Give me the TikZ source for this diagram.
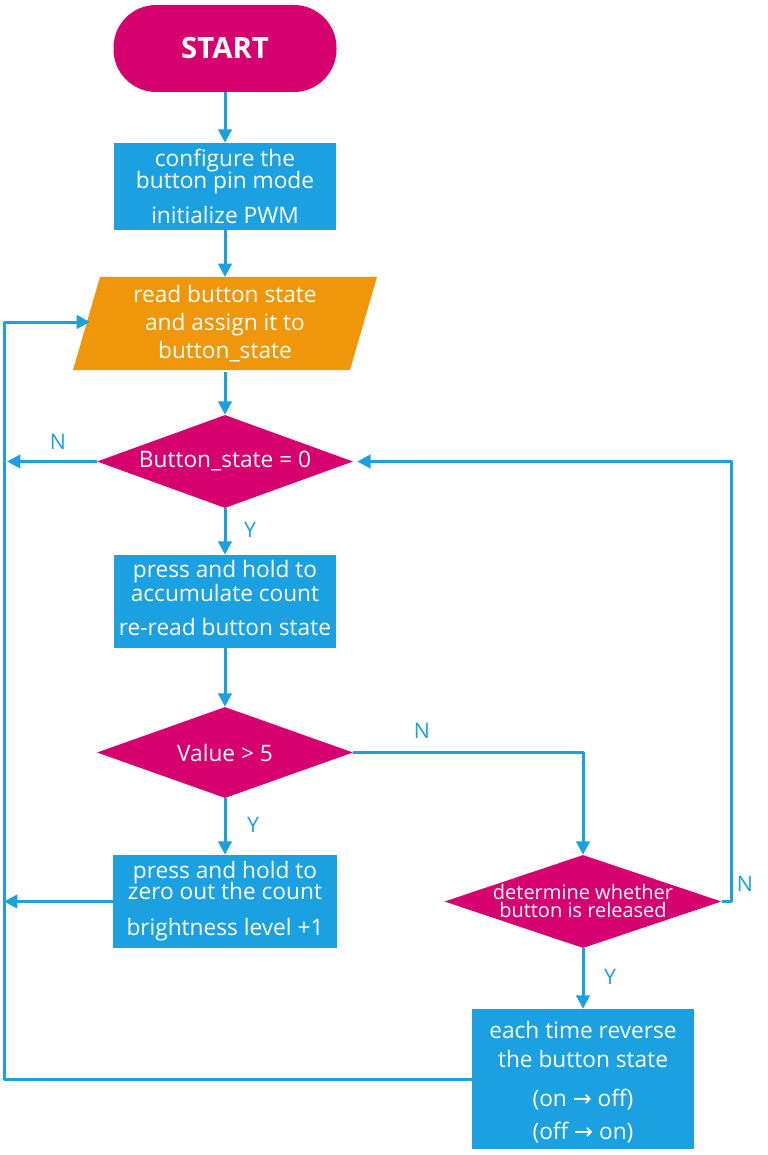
\documentclass[tikz,border=0pt]{standalone}
\usepackage{fontspec}
\setmainfont{Open Sans}
\newfontfamily\arrowfont{DejaVu Sans}
\usetikzlibrary{shapes.geometric,arrows.meta}
\definecolor{mag}{RGB}{214,0,111}
\definecolor{fblue}{RGB}{27,161,226}
\definecolor{forange}{RGB}{240,150,10}
\newcommand{\mainfnt}{\fontsize{17}{16.5}\selectfont\setlength{\lineskiplimit}{-20pt}}
\begin{document}
\begin{tikzpicture}[x=0.75pt,y=-0.75pt,
  box/.style={rectangle, fill=fblue, text=white, minimum width=166.5pt, inner sep=0pt, align=center, font=\mainfnt},
  dec/.style={diamond, fill=mag, text=white, inner sep=0pt, aspect=2.75, align=center, font=\mainfnt},
  txt/.style={text=white, inner sep=0pt, align=center},
  flow/.style={draw=fblue, line width=2.25pt, line join=round, -{Triangle[width=10pt,length=10pt]}},
  lbl/.style={text=fblue, font=\fontsize{16}{18}\selectfont, inner sep=0pt}]
\useasboundingbox (0,0) rectangle (767,1155);
% start
\node[rectangle, rounded corners=32pt, fill=mag, text=white, minimum width=167.25pt, minimum height=65.25pt, inner sep=0pt, font=\fontsize{22}{24}\selectfont\bfseries] (start) at (225,48.5) {START};
% box 1
\node[box, minimum height=65.25pt] (b1) at (225,186.5) {configure the\\button pin mode\\[9.75pt]initialize PWM};
% parallelogram
\fill[forange] (100,277) -- (377,277) -- (350,370) -- (73,370) -- cycle;
\node[txt, font=\mainfnt] (para) at (225,323.5) {read button state\\[4.5pt]and assign it to\\[4.5pt]button\_state};
\coordinate (pt) at (225,277);
\coordinate (pb) at (225,372);
\coordinate (pl) at (90,322);
% decision 1
\node[dec, minimum width=192pt, minimum height=69.75pt] (d1) at (225,461.5) {Button\_state = 0};
% box 2
\node[box, minimum height=69.75pt] (b2) at (225,601.5) {press and hold to\\[1.5pt]accumulate count\\[9pt]re-read button state\\[-10.5pt]};
% decision 2
\node[dec, minimum width=192pt, minimum height=68.25pt] (d2) at (225,752.5) {Value \textgreater{} 5};
% box 3
\node[box, minimum height=69.75pt, minimum width=168pt] (b3) at (225,901.5) {press and hold to\\[-0.75pt]zero out the count\\[10.5pt]brightness level +1};
% decision 3
\node[dec, minimum width=207.75pt, minimum height=69.75pt] (d3) at (583,901.5) {};
\node[txt, font=\fontsize{15}{13.5}\selectfont\setlength{\lineskiplimit}{-20pt}] (d3t) at (583,901) {determine whether\\button is released};
% box 4
\node[box, minimum height=105pt] (b4) at (583,1079) {};
\node[txt, font=\mainfnt] (b4t) at (583,1082) {each time reverse\\[5.25pt]the button state\\[12.75pt](on {\arrowfont →} off)\\[8.25pt](off {\arrowfont →} on)};
% free ends
\coordinate (nL) at (7,461.5);
\coordinate (b3L) at (4,901.5);
\coordinate (lpB) at (4,1079);
\coordinate (lpT) at (4,322);
\coordinate (rN) at (731,901.5);
\coordinate (rT) at (731,461.5);
% connectors
\draw[flow] (start) -- (b1);
\draw[flow] (b1) -- (pt);
\draw[flow] (pb) -- (d1);
\draw[flow] (d1.west) -- (nL);
\draw[flow] (d1) -- (b2);
\draw[flow] (b2) -- (d2);
\draw[flow] (d2) -- (b3);
\draw[flow] (d2.east) -| (d3.north);
\draw[flow] (b3.west) -- (b3L);
\draw[flow, shorten >=3pt] (d3.east) -- (rN) -- (rT) -- (d1.east);
\draw[flow] (d3) -- (b4);
\draw[flow] (b4.west) -- (lpB) -- (lpT) -- (pl);
% labels
\node[lbl] (lN1) at (58,442) {N};
\node[lbl] (lY1) at (250,530) {Y};
\node[lbl] (lY2) at (253,825) {Y};
\node[lbl] (lN2) at (422,731) {N};
\node[lbl] (lN3) at (745,884) {N};
\node[lbl] (lY3) at (610,977) {Y};
\end{tikzpicture}
\end{document}
